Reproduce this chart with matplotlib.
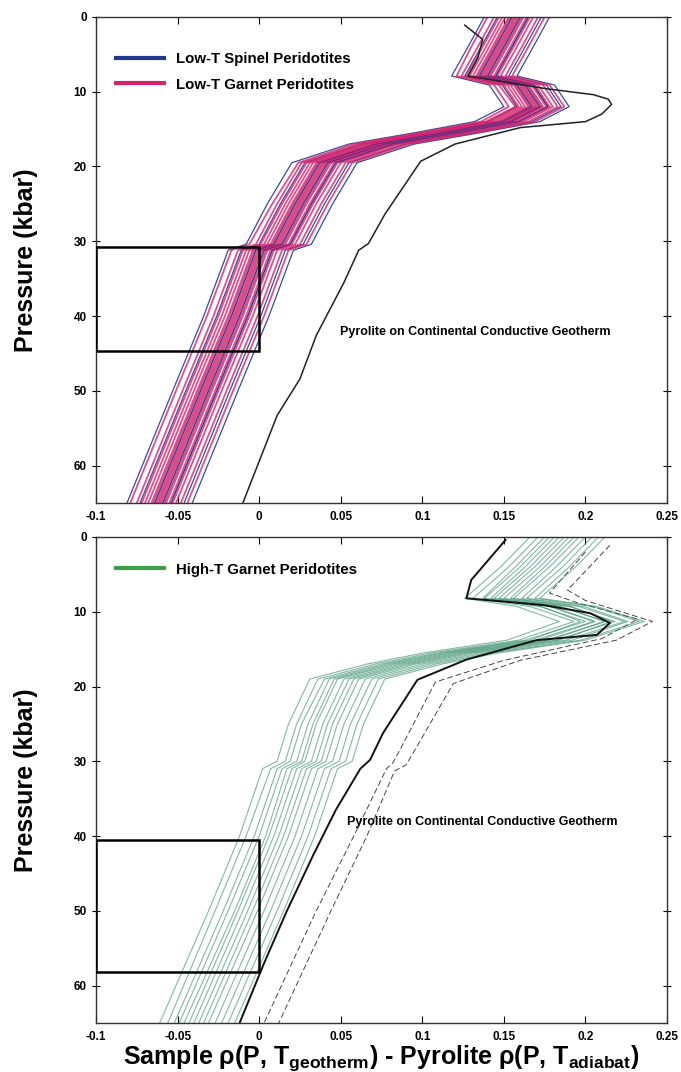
"""Density contrast of peridotite samples vs. pyrolite, two stacked panels."""

import matplotlib

matplotlib.use("Agg")

import matplotlib.pyplot as plt
from matplotlib.lines import Line2D
from matplotlib.patches import Rectangle

plt.rcParams["font.family"] = ["Liberation Sans", "DejaVu Sans"]
plt.rcParams["font.weight"] = "bold"
plt.rcParams["mathtext.fontset"] = "custom"
plt.rcParams["mathtext.rm"] = "Liberation Sans:bold"
plt.rcParams["mathtext.bf"] = "Liberation Sans:bold"
plt.rcParams["mathtext.it"] = "Liberation Sans"

# ---------------------------------------------------------------- top panel data
P_TOP = [0, 4, 7.9, 9.1, 12.0, 14.0, 15.5, 17.0, 19.5, 25.0, 30.4, 31.2, 40.0, 50.0, 65.0]

PINK_TOP = [
    [0.140, 0.130, 0.121, 0.144, 0.153, 0.136, 0.098, 0.058, 0.024, 0.008, -0.006, -0.017, -0.032, -0.051, -0.079],
    [0.144, 0.134, 0.124, 0.147, 0.157, 0.139, 0.101, 0.061, 0.026, 0.011, -0.002, -0.013, -0.028, -0.047, -0.075],
    [0.147, 0.137, 0.127, 0.150, 0.159, 0.141, 0.104, 0.064, 0.029, 0.014, 0.001, -0.010, -0.025, -0.044, -0.072],
    [0.149, 0.139, 0.129, 0.152, 0.161, 0.143, 0.106, 0.066, 0.031, 0.016, 0.003, -0.008, -0.023, -0.042, -0.070],
    [0.151, 0.141, 0.131, 0.154, 0.163, 0.145, 0.108, 0.068, 0.033, 0.018, 0.005, -0.006, -0.021, -0.040, -0.068],
    [0.153, 0.143, 0.133, 0.156, 0.165, 0.147, 0.110, 0.070, 0.035, 0.020, 0.007, -0.004, -0.019, -0.038, -0.066],
    [0.154, 0.144, 0.134, 0.157, 0.166, 0.148, 0.111, 0.071, 0.036, 0.021, 0.008, -0.003, -0.018, -0.037, -0.065],
    [0.156, 0.146, 0.136, 0.159, 0.168, 0.150, 0.113, 0.073, 0.038, 0.023, 0.010, -0.001, -0.016, -0.035, -0.063],
    [0.157, 0.147, 0.137, 0.160, 0.169, 0.151, 0.114, 0.074, 0.039, 0.024, 0.011, 0.000, -0.015, -0.034, -0.062],
    [0.158, 0.148, 0.138, 0.161, 0.170, 0.152, 0.115, 0.075, 0.040, 0.025, 0.012, 0.001, -0.014, -0.033, -0.061],
    [0.159, 0.149, 0.139, 0.162, 0.171, 0.153, 0.116, 0.076, 0.041, 0.026, 0.013, 0.002, -0.013, -0.032, -0.060],
    [0.161, 0.151, 0.141, 0.164, 0.173, 0.155, 0.118, 0.078, 0.043, 0.028, 0.015, 0.004, -0.011, -0.030, -0.058],
    [0.162, 0.152, 0.142, 0.165, 0.174, 0.156, 0.119, 0.079, 0.044, 0.029, 0.016, 0.005, -0.010, -0.029, -0.057],
    [0.164, 0.154, 0.144, 0.167, 0.176, 0.158, 0.121, 0.081, 0.046, 0.031, 0.018, 0.007, -0.008, -0.027, -0.055],
    [0.166, 0.156, 0.146, 0.169, 0.178, 0.160, 0.123, 0.083, 0.048, 0.033, 0.020, 0.009, -0.006, -0.025, -0.053],
    [0.168, 0.158, 0.148, 0.171, 0.180, 0.162, 0.125, 0.085, 0.050, 0.035, 0.022, 0.011, -0.004, -0.023, -0.051],
    [0.171, 0.161, 0.151, 0.174, 0.183, 0.165, 0.128, 0.088, 0.053, 0.038, 0.025, 0.014, -0.001, -0.020, -0.048],
    [0.175, 0.165, 0.155, 0.178, 0.187, 0.169, 0.132, 0.092, 0.057, 0.042, 0.029, 0.018, 0.003, -0.016, -0.044],
]

BLUE_TOP = [
    [0.138, 0.128, 0.118, 0.141, 0.150, 0.132, 0.095, 0.055, 0.020, 0.005, -0.008, -0.019, -0.034, -0.053, -0.081],
    [0.146, 0.136, 0.126, 0.149, 0.158, 0.140, 0.103, 0.063, 0.028, 0.013, 0.000, -0.011, -0.026, -0.045, -0.073],
    [0.155, 0.145, 0.135, 0.158, 0.167, 0.149, 0.112, 0.072, 0.037, 0.022, 0.009, -0.002, -0.017, -0.036, -0.064],
    [0.160, 0.150, 0.140, 0.163, 0.172, 0.154, 0.117, 0.077, 0.042, 0.027, 0.014, 0.003, -0.012, -0.031, -0.059],
    [0.165, 0.155, 0.145, 0.168, 0.177, 0.159, 0.122, 0.082, 0.047, 0.032, 0.019, 0.008, -0.007, -0.026, -0.054],
    [0.173, 0.163, 0.153, 0.176, 0.185, 0.167, 0.130, 0.090, 0.055, 0.040, 0.027, 0.016, 0.001, -0.018, -0.046],
    [0.178, 0.168, 0.158, 0.181, 0.190, 0.172, 0.135, 0.095, 0.060, 0.045, 0.032, 0.021, 0.006, -0.013, -0.041],
]

# pyrolite on continental conductive geotherm (top panel)
PYR_TOP_P = [1.1, 3.0, 5.5, 7.9, 9.6, 10.4, 11.0, 11.7, 13.0, 14.0, 14.8, 17.0, 19.3,
             26.4, 30.3, 31.2, 35.5, 42.6, 48.4, 53.3, 65.0]
PYR_TOP_X = [0.126, 0.137, 0.134, 0.128, 0.176, 0.205, 0.214, 0.216, 0.210, 0.200, 0.160, 0.120, 0.099,
             0.077, 0.067, 0.061, 0.052, 0.035, 0.025, 0.011, -0.010]

# ------------------------------------------------------------- bottom panel data
P_BOT = [0, 4, 8.2, 9.3, 11.3, 13.8, 15.5, 17.0, 19.0, 25.0, 30.0, 31.0, 40.0, 50.0, 65.0]

GREEN_BOT = [
    [0.166, 0.148, 0.126, 0.158, 0.184, 0.152, 0.101, 0.066, 0.031, 0.018, 0.011, 0.002, -0.012, -0.031, -0.061],
    [0.171, 0.153, 0.131, 0.166, 0.193, 0.159, 0.106, 0.071, 0.036, 0.023, 0.016, 0.007, -0.008, -0.027, -0.056],
    [0.175, 0.157, 0.137, 0.172, 0.200, 0.163, 0.110, 0.075, 0.040, 0.026, 0.019, 0.011, -0.003, -0.022, -0.052],
    [0.178, 0.160, 0.138, 0.173, 0.197, 0.166, 0.113, 0.078, 0.043, 0.030, 0.023, 0.014, 0.000, -0.019, -0.049],
    [0.181, 0.163, 0.142, 0.178, 0.205, 0.169, 0.116, 0.081, 0.046, 0.033, 0.026, 0.017, 0.004, -0.015, -0.046],
    [0.184, 0.166, 0.144, 0.179, 0.206, 0.172, 0.119, 0.084, 0.048, 0.035, 0.028, 0.020, 0.006, -0.013, -0.043],
    [0.187, 0.169, 0.147, 0.184, 0.212, 0.176, 0.122, 0.087, 0.052, 0.039, 0.032, 0.023, 0.009, -0.010, -0.040],
    [0.190, 0.172, 0.150, 0.185, 0.212, 0.178, 0.125, 0.090, 0.055, 0.042, 0.035, 0.026, 0.012, -0.007, -0.037],
    [0.193, 0.175, 0.154, 0.190, 0.218, 0.182, 0.128, 0.093, 0.058, 0.045, 0.038, 0.029, 0.015, -0.004, -0.034],
    [0.196, 0.178, 0.156, 0.191, 0.216, 0.184, 0.131, 0.096, 0.061, 0.048, 0.041, 0.032, 0.018, -0.001, -0.031],
    [0.200, 0.182, 0.161, 0.196, 0.224, 0.188, 0.135, 0.100, 0.065, 0.052, 0.045, 0.036, 0.022, 0.003, -0.027],
    [0.204, 0.186, 0.164, 0.199, 0.226, 0.192, 0.139, 0.104, 0.069, 0.056, 0.049, 0.040, 0.026, 0.007, -0.023],
    [0.208, 0.190, 0.169, 0.205, 0.233, 0.197, 0.143, 0.108, 0.073, 0.060, 0.053, 0.044, 0.030, 0.011, -0.019],
    [0.212, 0.194, 0.172, 0.207, 0.236, 0.200, 0.147, 0.112, 0.077, 0.064, 0.057, 0.048, 0.034, 0.015, -0.015],
]

PYR_BOT_P = [0.4, 5.75, 8.2, 9.1, 10.2, 11.5, 13.1, 13.8, 16.4, 19.1, 26.2, 29.8, 31.0,
             36.5, 42.6, 50.0, 57.0, 65.0]
PYR_BOT_X = [0.151, 0.130, 0.127, 0.174, 0.203, 0.215, 0.207, 0.170, 0.127, 0.097, 0.076, 0.068, 0.062,
             0.047, 0.033, 0.017, 0.003, -0.012]

DASH1_P = [1.1, 7.1, 8.5, 11.3, 13.8, 16.5, 19.6, 29.4, 30.5, 31.3, 40.0, 50.0, 65.0]
DASH1_X = [0.215, 0.189, 0.200, 0.241, 0.219, 0.160, 0.119, 0.093, 0.090, 0.083, 0.066, 0.044, 0.012]
DASH2_P = [2.0, 7.5, 8.8, 11.0, 13.6, 16.5, 19.4, 29.0, 30.2, 31.0, 40.0, 50.0, 65.0]
DASH2_X = [0.200, 0.178, 0.195, 0.232, 0.210, 0.150, 0.108, 0.085, 0.082, 0.078, 0.058, 0.035, 0.003]

# boxes: (x0, x1, p0, p1)
BOX_TOP = (-0.1, 0.0, 30.7, 44.7)
BOX_BOT = (-0.1, 0.0, 40.5, 58.2)

X_TICKS = [-0.1, -0.05, 0, 0.05, 0.1, 0.15, 0.2, 0.25]
X_TICK_LABELS = ["-0.1", "-0.05", "0", "0.05", "0.1", "0.15", "0.2", "0.25"]
Y_TICKS = [0, 10, 20, 30, 40, 50, 60]

PINK = "#d4246e"
BLUE = "#23388f"
GREEN = "#2f8a66"
GREEN_LEG = "#3c9e4a"


def style_axes(ax):
    ax.set_xlim(-0.1, 0.25)
    ax.set_ylim(65, 0)
    ax.set_xticks(X_TICKS, X_TICK_LABELS)
    ax.set_yticks(Y_TICKS)
    ax.tick_params(axis="x", direction="in", top=True, length=5, labelsize=8.5, pad=6)
    ax.tick_params(axis="y", direction="inout", right=True, length=6, labelsize=8.5)
    for label in ax.get_xticklabels() + ax.get_yticklabels():
        label.set_fontweight("bold")
    for spine in ax.spines.values():
        spine.set_linewidth(1.0)
        spine.set_color("#333333")
    ax.set_ylabel("Pressure (kbar)", fontsize=18, fontweight="bold", labelpad=26)


def draw_box(ax, box):
    x0, x1, p0, p1 = box
    ax.add_patch(Rectangle((x0, p0), x1 - x0, p1 - p0, fill=False,
                           edgecolor="black", linewidth=1.8, zorder=5))


fig = plt.figure(figsize=(6.81, 10.72), dpi=100)
ax_top = fig.add_axes([0.141, 0.5308, 0.8385, 0.4534])
ax_bot = fig.add_axes([0.141, 0.0457, 0.8385, 0.4534])

# top panel
for row in BLUE_TOP:
    ax_top.plot(row, P_TOP, color=BLUE, linewidth=0.9, alpha=0.9)
for row in PINK_TOP:
    ax_top.plot(row, P_TOP, color=PINK, linewidth=1.3, alpha=0.8)
for row in BLUE_TOP[2:5]:
    ax_top.plot(row, P_TOP, color=BLUE, linewidth=0.7, alpha=0.7)
ax_top.plot(PYR_TOP_X, PYR_TOP_P, color="#222222", linewidth=1.1)
draw_box(ax_top, BOX_TOP)
ax_top.text(0.0496, 42.1, "Pyrolite on Continental Conductive Geotherm",
            fontsize=9.0, fontweight="bold", va="center")
handles = [Line2D([], [], color=BLUE, linewidth=3),
           Line2D([], [], color=PINK, linewidth=3)]
ax_top.legend(handles, ["Low-T Spinel Peridotites", "Low-T Garnet Peridotites"],
              loc="upper left", bbox_to_anchor=(0.012, 0.955), frameon=False,
              handlelength=3.2, handletextpad=0.8, labelspacing=0.75,
              prop={"weight": "bold", "size": 10.8})
style_axes(ax_top)

# bottom panel
ax_bot.plot(DASH1_X, DASH1_P, color="#444444", linewidth=0.7, linestyle=(0, (6, 3)))
ax_bot.plot(DASH2_X, DASH2_P, color="#444444", linewidth=0.7, linestyle=(0, (6, 3)))
for row in GREEN_BOT:
    ax_bot.plot(row, P_BOT, color=GREEN, linewidth=0.8, alpha=0.6)
ax_bot.plot(PYR_BOT_X, PYR_BOT_P, color="#111111", linewidth=1.4)
draw_box(ax_bot, BOX_BOT)
ax_bot.text(0.054, 38.1, "Pyrolite on Continental Conductive Geotherm",
            fontsize=9.0, fontweight="bold", va="center")
ax_bot.legend([Line2D([], [], color=GREEN_LEG, linewidth=3)], ["High-T Garnet Peridotites"],
              loc="upper left", bbox_to_anchor=(0.012, 0.975), frameon=False,
              handlelength=3.2, handletextpad=0.8,
              prop={"weight": "bold", "size": 10.8})
style_axes(ax_bot)
ax_bot.set_xlabel(r"Sample $\rho$(P, T$_{\rm geotherm}$) - Pyrolite $\rho$(P, T$_{\rm adiabat}$)",
                  fontsize=18, fontweight="bold", labelpad=0)

fig.savefig("out.png", dpi=100)
